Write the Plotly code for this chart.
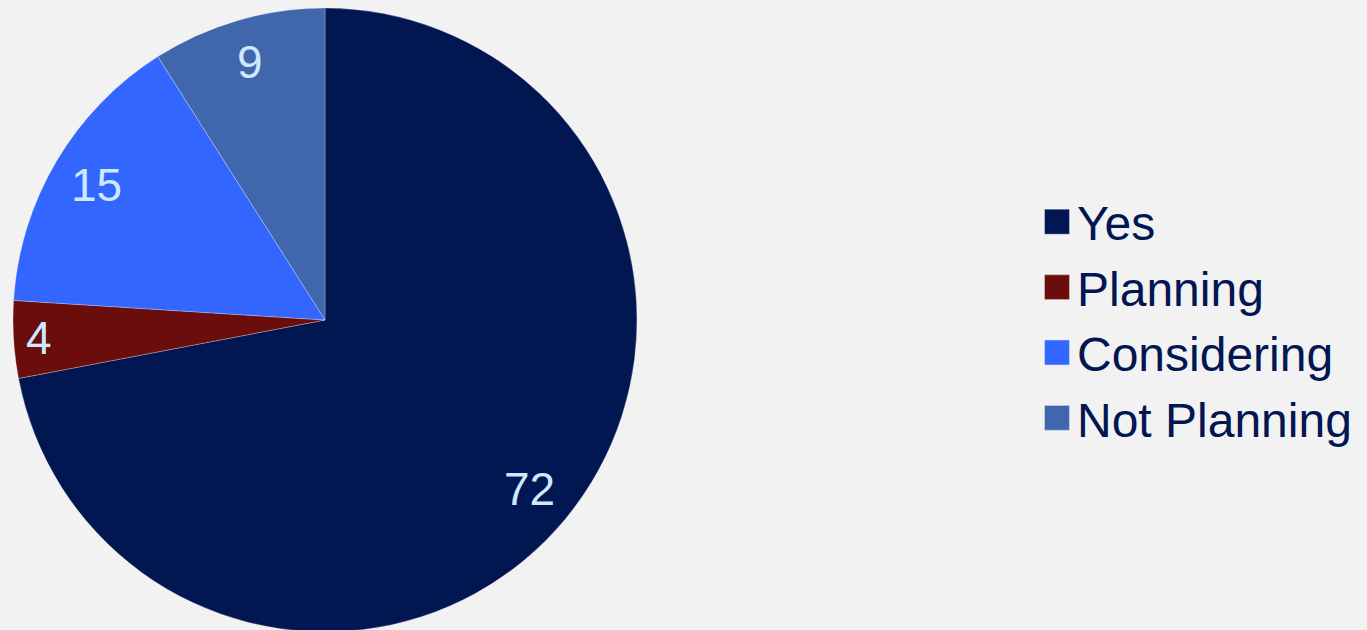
import math
import plotly.graph_objects as go

categories = ["Yes", "Planning", "Considering", "Not Planning"]
values = [72, 4, 15, 9]
colors = ["#021651", "#6b0d0d", "#3366ff", "#4066ae"]
label_radius = [0.85, 0.92, 0.85, 0.86]  # fraction of pie radius where each value label sits

W, H = 1367, 640  # the window shows the top 630 px; the pie's bottom edge is clipped as in the reference
pie_left, pie_right = 13, 637
cx_frac = (pie_left + pie_right) / 2 / W
R = (pie_right - pie_left) / 2

fig = go.Figure(
    go.Pie(
        labels=categories,
        values=values,
        sort=False,
        direction="clockwise",
        rotation=0,
        marker=dict(colors=colors, line=dict(color="rgba(255,255,255,0.45)", width=0.6)),
        textinfo="none",
        hoverinfo="label+value",
        domain=dict(x=[pie_left / W, pie_right / W], y=[0, 1]),
    )
)

total = sum(values)
cum = 0
for cat, v, f in zip(categories, values, label_radius):
    theta = 2 * math.pi * (cum + v / 2) / total
    cum += v
    fig.add_annotation(
        x=cx_frac, y=0.5, xref="paper", yref="paper",
        xshift=R * f * math.sin(theta), yshift=R * f * math.cos(theta),
        text=str(v), showarrow=False,
        font=dict(family="Liberation Sans, Arial", size=46, color="#cde8ff"),
        xanchor="center", yanchor="middle",
    )

fig.update_layout(
    width=W,
    height=H,
    margin=dict(l=0, r=0, t=0, b=0),
    paper_bgcolor="#f2f2f2",
    plot_bgcolor="#f2f2f2",
    font=dict(family="Liberation Sans, Arial", color="#021651"),
    legend=dict(
        x=1037 / W,
        xanchor="left",
        y=0.5,
        yanchor="middle",
        font=dict(size=48, color="#021651"),
        bgcolor="rgba(0,0,0,0)",
    ),
)

post = """
document.body.style.margin = '0';
document.body.style.overflow = 'hidden';
document.documentElement.style.overflow = 'hidden';
document.querySelectorAll('.legendpie').forEach(function (p) {
  p.setAttribute('transform', (p.getAttribute('transform') || '') + ' scale(2.1)');
});
"""

fig.write_html("out.html", post_script=post, config={"displayModeBar": False})
